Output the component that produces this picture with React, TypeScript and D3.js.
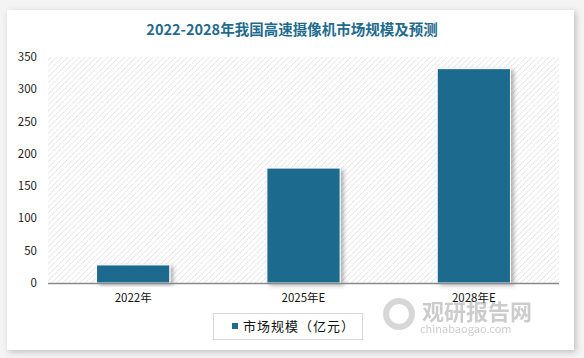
import React from "react";
import * as d3 from "d3";

const categories = ["2022年", "2025年E", "2028年E"];
const values = [28, 178, 332];
const yTicks = [0, 50, 100, 150, 200, 250, 300, 350];
const title = "2022-2028年我国高速摄像机市场规模及预测";
const seriesName = "市场规模（亿元）";

const W = 584;
const H = 358;
const M = { left: 48, right: 25, top: 57, bottom: 75 };
const FONT = "'Noto Sans CJK SC', 'Noto Sans', sans-serif";

export default function App() {
  const x = d3
    .scaleBand<string>()
    .domain(categories)
    .range([M.left, W - M.right])
    .paddingInner(0.57)
    .paddingOuter(0.285);
  const y = d3.scaleLinear().domain([0, 350]).range([H - M.bottom, M.top]);
  const plotW = W - M.right - M.left;

  return (
    <svg
      width={W}
      height={H}
      style={{ position: "absolute", left: 0, top: 0, background: "#ffffff" }}
      fontFamily={FONT}
    >
      <defs>
        <filter id="cardShadow" x="-5%" y="-5%" width="110%" height="115%">
          <feDropShadow dx="2" dy="2" stdDeviation="3" floodColor="#000" floodOpacity="0.22" />
        </filter>
        <filter id="barShadow" x="-20%" y="-10%" width="150%" height="130%">
          <feDropShadow dx="3" dy="2" stdDeviation="2" floodColor="#000" floodOpacity="0.3" />
        </filter>
        <pattern id="hatch" patternUnits="userSpaceOnUse" width="4" height="4" patternTransform="rotate(45)">
          <rect width="4" height="4" fill="#ffffff" />
          <line x1="0" y1="0" x2="0" y2="4" stroke="#cfcfcf" strokeWidth="1.4" strokeDasharray="1.2 0.8" />
        </pattern>
      </defs>
      <rect x={0} y={0} width={W} height={H} fill="#f4f4f4" />
      <rect x={7} y={10} width={567} height={340} fill="#ffffff" filter="url(#cardShadow)" />
      <text
        x={W / 2}
        y={35}
        textAnchor="middle"
        fontSize={14.5}
        fontWeight="bold"
        fill="#1f6b8e"
      >
        {title}
      </text>
      <rect x={M.left} y={M.top} width={plotW} height={H - M.bottom - M.top} fill="url(#hatch)" />
      {yTicks.map((t) => (
        <text key={t} x={37} y={y(t)} dy="0.35em" textAnchor="end" fontSize={11.5} fill="#222">
          {t}
        </text>
      ))}
      {categories.map((c, i) => (
        <rect
          key={c}
          x={x(c)}
          y={y(values[i])}
          width={x.bandwidth()}
          height={y(0) - y(values[i])}
          fill="#1e6b8e"
          stroke="#ffffff"
          strokeWidth={1}
          filter="url(#barShadow)"
        />
      ))}
      <line x1={M.left} x2={W - M.right} y1={y(0) + 0.5} y2={y(0) + 0.5} stroke="#8a8a8a" strokeWidth={1.5} />
      <g opacity={0.5}>
        <circle cx={399} cy={314} r={13} fill="none" stroke="#b0b0b0" strokeWidth={6} />
        <text x={422} y={320} fontSize={22} fontWeight="bold" fill="#9a9a9a">
          观研报告网
        </text>
        <text x={420} y={333} fontSize={11} fill="#9a9a9a">
          chinabaogao.com
        </text>
      </g>
      {categories.map((c) => (
        <text
          key={c}
          x={(x(c) as number) + x.bandwidth() / 2}
          y={302}
          textAnchor="middle"
          fontSize={11.5}
          fill="#111"
        >
          {c}
        </text>
      ))}
      <rect x={213.5} y={313.5} width={149} height={26} fill="#ffffff" stroke="#d8d8d8" strokeWidth={1} />
      <rect x={232} y={323} width={6} height={6} fill="#1e6b8e" />
      <text x={243} y={326} dy="0.35em" fontSize={13} fill="#111" letterSpacing={1}>
        {seriesName}
      </text>
    </svg>
  );
}
